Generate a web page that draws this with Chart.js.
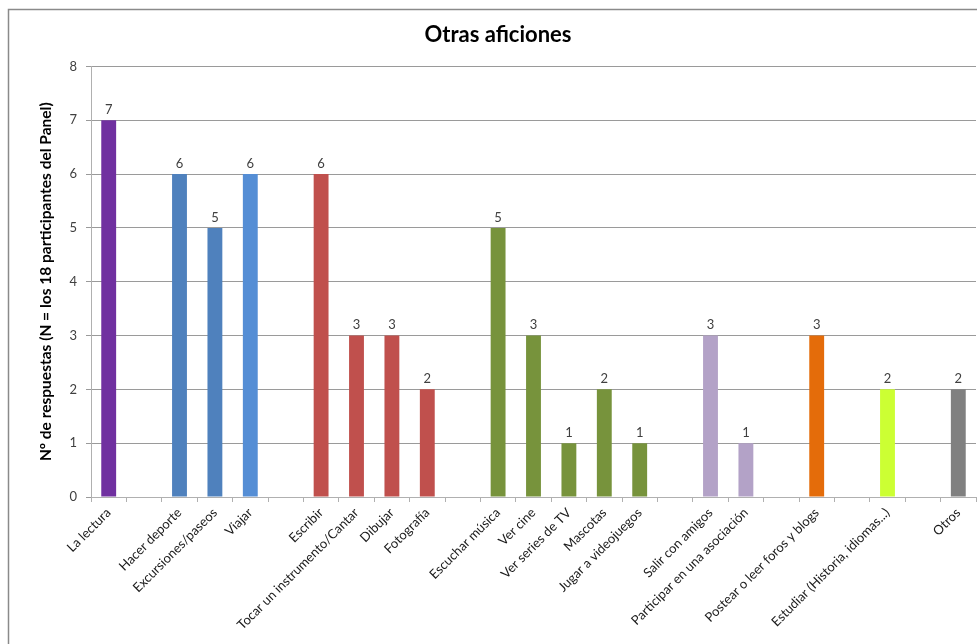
<!DOCTYPE html>
<html>
<head>
<meta charset="utf-8">
<script src="https://cdn.jsdelivr.net/npm/chart.js@4.4.1/dist/chart.umd.min.js"></script>
<style>
  html, body { margin: 0; padding: 0; background: #ffffff; }
  #wrap { position: relative; width: 977px; height: 644px; }
</style>
</head>
<body>
<div id="wrap"><canvas id="c" width="977" height="644"></canvas></div>
<script>
const categories = [
  'La lectura', '', 'Hacer deporte', 'Excursiones/paseos', 'Viajar', '',
  'Escribir', 'Tocar un instrumento/Cantar', 'Dibujar', 'Fotografía', '',
  'Escuchar música', 'Ver cine', 'Ver series de TV', 'Mascotas', 'Jugar a videojuegos', '',
  'Salir con amigos', 'Participar en una asociación', '',
  'Postear o leer foros y blogs', '', 'Estudiar (Historia, idiomas...)', '', 'Otros'
];
const values = [
  7, null, 6, 5, 6, null,
  6, 3, 3, 2, null,
  5, 3, 1, 2, 1, null,
  3, 1, null,
  3, null, 2, null, 2
];
const barColors = [
  '#7030A0', null, '#4F81BD', '#4F81BD', '#558ED5', null,
  '#C0504D', '#C0504D', '#C0504D', '#C0504D', null,
  '#77933C', '#77933C', '#77933C', '#77933C', '#77933C', null,
  '#B3A2C7', '#B3A2C7', null,
  '#E46C0A', null, '#CCFF33', null, '#808080'
];
const yTicks = [0, 1, 2, 3, 4, 5, 6, 7, 8];
const chartTitle = 'Otras aficiones';
const yTitle = 'Nº de respuestas (N = los 18 participantes del Panel)';

const FONT = "Lato, 'Open Sans', sans-serif";

const framePlugin = {
  id: 'frame',
  beforeDraw(chart) {
    const ctx = chart.ctx;
    ctx.save();
    ctx.fillStyle = '#ffffff';
    ctx.fillRect(0, 0, chart.width, chart.height);
    ctx.strokeStyle = '#8a8a8a';
    ctx.lineWidth = 1.5;
    ctx.strokeRect(8.5, 9.5, 1100, 800);
    ctx.restore();
  }
};

const valueLabels = {
  id: 'valueLabels',
  afterDatasetsDraw(chart) {
    const ctx = chart.ctx;
    const meta = chart.getDatasetMeta(0);
    ctx.save();
    ctx.font = '13px ' + FONT;
    ctx.fillStyle = '#404040';
    ctx.textAlign = 'center';
    ctx.textBaseline = 'bottom';
    meta.data.forEach((bar, i) => {
      const v = values[i];
      if (v === null || v === undefined) return;
      ctx.fillText(String(v), bar.x, bar.y - 4);
    });
    ctx.restore();
  }
};

new Chart(document.getElementById('c'), {
  type: 'bar',
  data: {
    labels: categories,
    datasets: [{
      data: values,
      backgroundColor: barColors,
      barPercentage: 0.42,
      categoryPercentage: 1.0
    }]
  },
  options: {
    responsive: false,
    animation: false,
    layout: { padding: { left: 20, right: 1, top: 0, bottom: 0 } },
    plugins: {
      legend: { display: false },
      tooltip: { enabled: false },
      title: {
        display: true,
        text: chartTitle,
        color: '#000000',
        font: { family: FONT, size: 22, weight: 'bold' },
        padding: { top: 22, bottom: 18 }
      }
    },
    scales: {
      x: {
        type: 'category',
        offset: true,
        grid: {
          offset: true,
          drawOnChartArea: false,
          drawTicks: true,
          tickLength: 5,
          color: '#b0b0b0'
        },
        border: { display: true, color: '#b0b0b0' },
        ticks: {
          autoSkip: false,
          maxRotation: 45,
          minRotation: 45,
          color: '#1a1a1a',
          font: { family: FONT, size: 13 },
          padding: 3
        },
        afterFit(scale) { scale.height = 147; }
      },
      y: {
        min: 0,
        max: 8,
        afterBuildTicks(scale) { scale.ticks = yTicks.map(v => ({ value: v })); },
        grid: {
          color: '#9a9a9a',
          drawTicks: true,
          tickLength: 5
        },
        border: { display: true, color: '#b0b0b0' },
        ticks: {
          color: '#404040',
          font: { family: FONT, size: 13 },
          padding: 9
        },
        title: {
          display: true,
          text: yTitle,
          color: '#000000',
          font: { family: FONT, size: 15.5, weight: 'bold' },
          padding: { top: 17, bottom: 4 }
        },
        afterFit(scale) { scale.width = 71; }
      }
    }
  },
  plugins: [framePlugin, valueLabels]
});
</script>
</body>
</html>
